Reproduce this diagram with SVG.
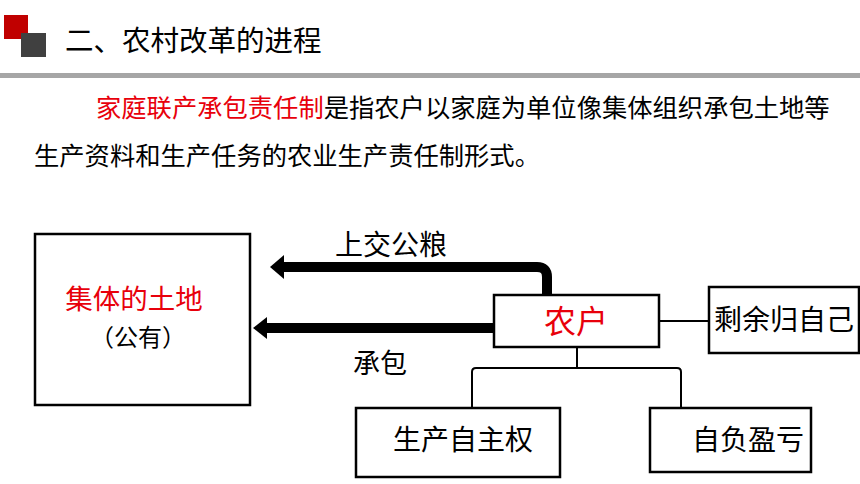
<svg xmlns="http://www.w3.org/2000/svg" width="860" height="484" viewBox="0 0 860 484">
<defs>
<style>
text{font-family:"Noto Sans CJK SC","Liberation Sans",sans-serif;fill:#000}
.red{fill:#e8000b}
.box{fill:#fff;stroke:#000;stroke-width:2.5}
.thin{fill:none;stroke:#000;stroke-width:2}
.thick{fill:none;stroke:#000;stroke-width:10}
</style>
</defs>
<rect width="860" height="484" fill="#fff"/>
<g id="header">
<rect x="4" y="15" width="24" height="24" fill="#c00000"/>
<rect x="21" y="33" width="25" height="24" fill="#404040"/>
<text x="65" y="51" font-size="28.5">二、农村改革的进程</text>
<rect x="0" y="73" width="860" height="5" fill="#a6a6a6"/>
</g>
<g id="paragraph">
<text x="96" y="117" font-size="25.3"><tspan class="red">家庭联产承包责任制</tspan>是指农户以家庭为单位像集体组织承包土地等</text>
<text x="34" y="165" font-size="25.3">生产资料和生产任务的农业生产责任制形式。</text>
</g>
<g id="connectors">
<path class="thick" d="M547,295 V277 Q547,267 537,267 H284"/>
<path d="M270,267 L284,255 L284,279 Z" fill="#000"/>
<path class="thick" d="M494,328 H267"/>
<path d="M253,328 L267,317 L267,339 Z" fill="#000"/>
<path class="thin" d="M659,321 H709"/>
<path class="thin" d="M577,347 V368"/>
<path class="thin" d="M472,408 V372 Q472,368 476,368 H677 Q681,368 681,372 V408"/>
</g>
<g id="node-land">
<rect class="box" x="35" y="234" width="215" height="171"/>
<text x="134" y="309" font-size="27.5" text-anchor="middle" class="red">集体的土地</text>
<text x="138" y="346" font-size="24" text-anchor="middle">（公有）</text>
</g>
<g id="node-farmer">
<rect class="box" x="494" y="295" width="165" height="52"/>
<text x="576" y="333" font-size="32" text-anchor="middle" class="red">农户</text>
</g>
<g id="node-surplus">
<rect class="box" x="709" y="287" width="150" height="66"/>
<text x="784" y="330" font-size="28" text-anchor="middle">剩余归自己</text>
</g>
<g id="node-autonomy">
<rect class="box" x="356" y="408" width="204" height="69"/>
<text x="463" y="450" font-size="28" text-anchor="middle">生产自主权</text>
</g>
<g id="node-profit">
<rect class="box" x="650" y="408" width="161" height="64"/>
<text x="748" y="450" font-size="28" text-anchor="middle">自负盈亏</text>
</g>
<g id="labels">
<text x="391" y="255" font-size="28" text-anchor="middle">上交公粮</text>
<text x="380" y="373" font-size="27" text-anchor="middle">承包</text>
</g>
</svg>
